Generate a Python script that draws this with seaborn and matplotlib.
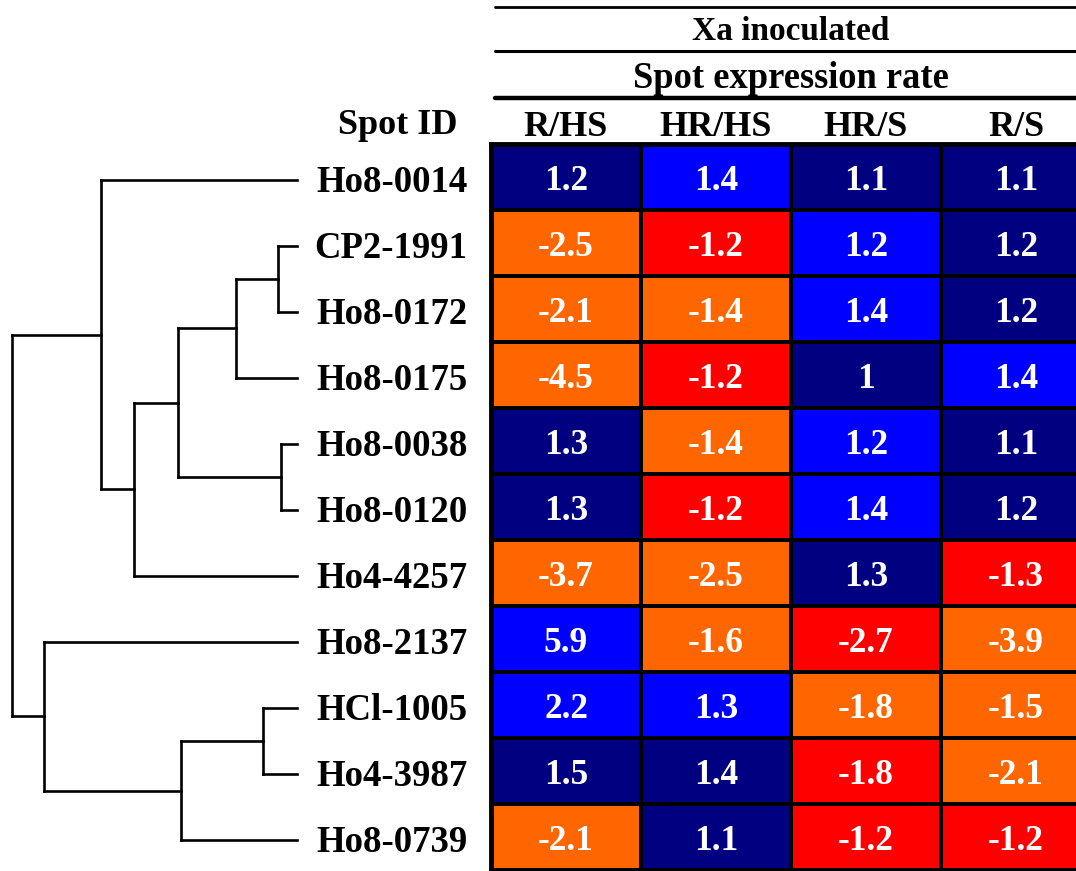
import numpy as np
import pandas as pd
import matplotlib
matplotlib.use("Agg")
import matplotlib.pyplot as plt
from matplotlib.colors import ListedColormap
from matplotlib.lines import Line2D
from matplotlib.transforms import offset_copy
import seaborn as sns

# ---- data -------------------------------------------------------------
spot_ids = ["Ho8-0014", "CP2-1991", "Ho8-0172", "Ho8-0175", "Ho8-0038",
            "Ho8-0120", "Ho4-4257", "Ho8-2137", "HCl-1005", "Ho4-3987",
            "Ho8-0739"]
comparisons = ["R/HS", "HR/HS", "HR/S", "R/S"]

expression_rate = [
    [1.2, 1.4, 1.1, 1.1],
    [-2.5, -1.2, 1.2, 1.2],
    [-2.1, -1.4, 1.4, 1.2],
    [-4.5, -1.2, 1, 1.4],
    [1.3, -1.4, 1.2, 1.1],
    [1.3, -1.2, 1.4, 1.2],
    [-3.7, -2.5, 1.3, -1.3],
    [5.9, -1.6, -2.7, -3.9],
    [2.2, 1.3, -1.8, -1.5],
    [1.5, 1.4, -1.8, -2.1],
    [-2.1, 1.1, -1.2, -1.2],
]

# colour class of each cell: 0 navy, 1 blue, 2 red, 3 orange
cell_class = [
    [0, 1, 0, 0],
    [3, 2, 1, 0],
    [3, 3, 1, 0],
    [3, 2, 0, 1],
    [0, 3, 1, 0],
    [0, 2, 1, 0],
    [3, 3, 0, 2],
    [1, 3, 2, 3],
    [1, 1, 3, 3],
    [0, 0, 2, 3],
    [3, 0, 2, 2],
]
class_colors = ["#000080", "#0000FF", "#FF0000", "#FF6600"]

# hierarchical clustering merges: (node, child_a, child_b, distance)
merges = [
    ("n1", "CP2-1991", "Ho8-0172", 19),
    ("n2", "Ho8-0038", "Ho8-0120", 16),
    ("n3", "n1", "Ho8-0175", 61),
    ("n4", "n3", "n2", 119),
    ("n5", "n4", "Ho4-4257", 163),
    ("n6", "Ho8-0014", "n5", 196),
    ("n7", "HCl-1005", "Ho4-3987", 34),
    ("n8", "n7", "Ho8-0739", 116),
    ("n9", "Ho8-2137", "n8", 253),
    ("root", "n6", "n9", 285),
]

# ---- figure -----------------------------------------------------------
sns.set_theme(style="white")
plt.rcParams["font.family"] = ["Liberation Serif", "DejaVu Serif"]
plt.rcParams["font.weight"] = "bold"
plt.rcParams["text.color"] = "black"
plt.rcParams["xtick.color"] = "black"
plt.rcParams["ytick.color"] = "black"

W, H = 1076, 871
fig = plt.figure(figsize=(W / 100, H / 100), dpi=100)
fig.patch.set_facecolor("white")

def fx(px):
    return px / W

def fy(py):
    return 1 - py / H

hm_top, hm_bottom = 144, 870
hm_left, col_w = 491, 150
ax = fig.add_axes([fx(hm_left), fy(hm_bottom), 4 * col_w / W,
                   (hm_bottom - hm_top) / H])

values = pd.DataFrame(expression_rate, index=spot_ids, columns=comparisons)
classes = pd.DataFrame(cell_class, index=spot_ids, columns=comparisons)
labels = values.map(lambda v: f"{v:g}")

sns.heatmap(classes, ax=ax, cmap=ListedColormap(class_colors),
            vmin=-0.5, vmax=3.5, cbar=False, annot=labels, fmt="",
            linewidths=2.8, linecolor="black",
            annot_kws=dict(color="white", fontsize=25.5, fontweight="bold",
                           fontfamily="Liberation Serif"))

# nudge the cell values slightly below the geometric centre
for t in ax.texts:
    t.set_transform(offset_copy(t.get_transform(), fig=fig, x=0, y=-4,
                                units="dots"))

for sp in ax.spines.values():
    sp.set_visible(True)
    sp.set_color("black")
    sp.set_linewidth(3.5)

ax.xaxis.tick_top()
ax.set_xticklabels(comparisons, fontsize=26, fontweight="bold", rotation=0,
                   color="black")
ax.set_yticklabels(spot_ids, fontsize=26.5, fontweight="bold", rotation=0,
                   color="black")
ax.tick_params(axis="x", length=0, pad=0)
ax.tick_params(axis="y", length=0, pad=17)
for lab in ax.get_yticklabels():
    lab.set_transform(offset_copy(lab.get_transform(), fig=fig, x=0, y=-5,
                                  units="dots"))
ax.set_xlabel("")
ax.set_ylabel("")

# ---- dendrogram -------------------------------------------------------
dax = fig.add_axes([0, fy(hm_bottom + 3), fx(297), (hm_bottom - hm_top) / H])
pos = {name: i + 0.5 for i, name in enumerate(spot_ids)}
height = {name: 0.0 for name in spot_ids}
for node, a, b, d in merges:
    for child in (a, b):
        dax.plot([height[child], d], [pos[child], pos[child]],
                 color="black", lw=1.9, solid_capstyle="projecting",
                 clip_on=False)
    dax.plot([d, d], [pos[a], pos[b]], color="black", lw=1.9,
             solid_capstyle="projecting", clip_on=False)
    pos[node] = (pos[a] + pos[b]) / 2
    height[node] = d
dax.set_xlim(297, 0)
dax.set_ylim(len(spot_ids), 0)
dax.axis("off")

# ---- header -----------------------------------------------------------
for py, lw in [(7, 2.0), (51, 2.2), (98, 3.2)]:
    fig.add_artist(Line2D([fx(495), 1.0], [fy(py), fy(py)],
                          color="black", lw=lw))

fig.text(fx(791), fy(32), "Xa inoculated", ha="center", va="center",
         fontsize=24, fontweight="bold", color="black")
fig.text(fx(791), fy(78), "Spot expression rate", ha="center",
         va="center", fontsize=26.3, fontweight="bold", color="black")
fig.text(fx(458), fy(126), "Spot ID", ha="right", va="center",
         fontsize=26, fontweight="bold", color="black")

fig.savefig("out.png", dpi=100, facecolor="white")
